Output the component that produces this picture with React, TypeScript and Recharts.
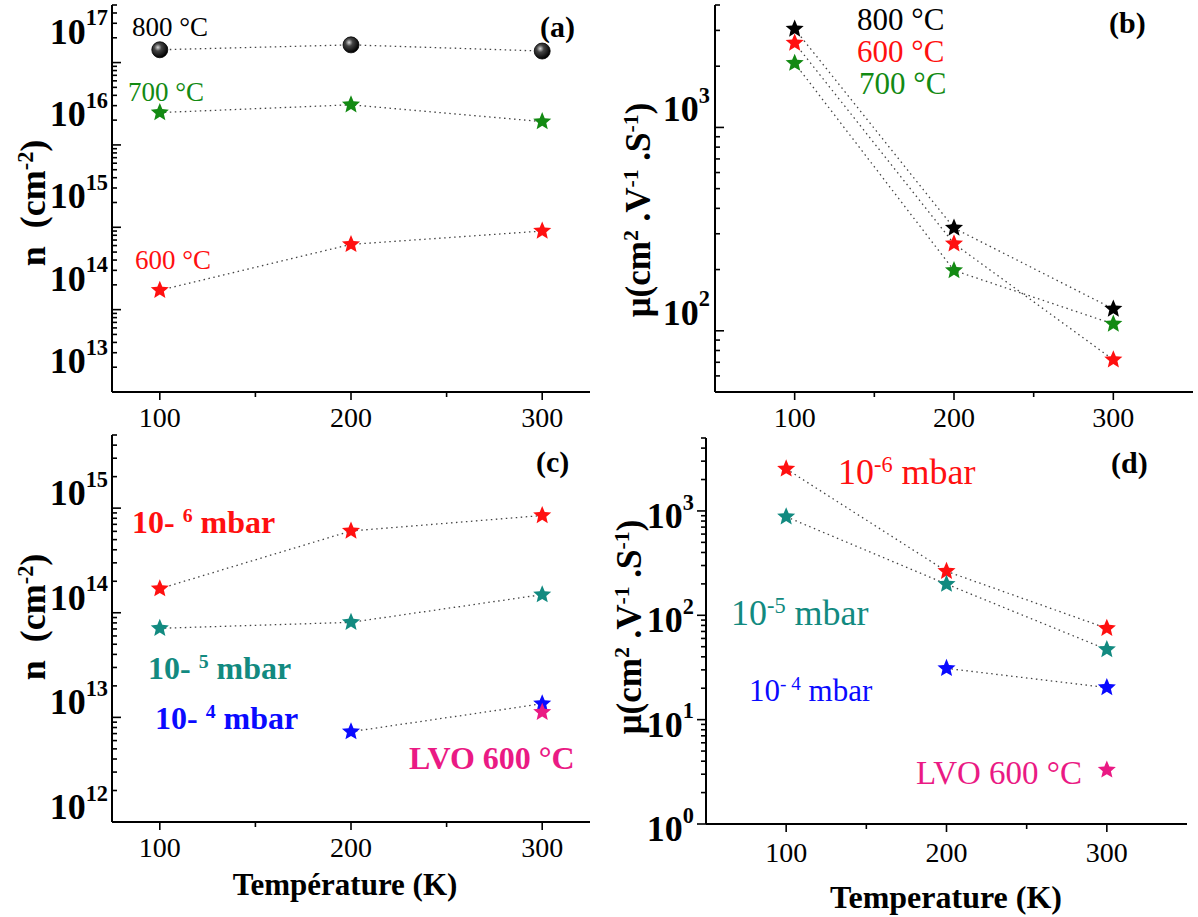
import React from 'react';
import { LineChart, Line, XAxis, YAxis } from 'recharts';

// ---------- data ----------
const temperatures = [100, 200, 300];

// (a) carrier density n (cm^-2) vs T, by growth temperature
const nA_800 = [1.43e17, 1.64e17, 1.38e17];
const nA_700 = [2.47e16, 3.07e16, 1.92e16];
const nA_600 = [1.72e14, 6.2e14, 9.0e14];

// (b) mobility vs T, by growth temperature
const muB_800 = [3050, 320, 128];
const muB_600 = [2600, 268, 72];
const muB_700 = [2070, 198, 108];

// (c) carrier density vs T, by oxygen pressure
const nC_1e6 = [1.7e14, 6.05e14, 8.5e14];
const nC_1e5 = [7.1e13, 8.1e13, 1.49e14];
const nC_1e4 = [null, 7.3e12, 1.35e13];
const nC_lvo = [null, null, 1.12e13];

// (d) mobility vs T, by oxygen pressure
const muD_1e6 = [2530, 264, 75];
const muD_1e5 = [880, 199, 47];
const muD_1e4 = [null, 31, 20.3];
const muD_lvo = [null, null, 3.3];

// axes
const xTicks = [100, 150, 200, 250, 300];
const xMajor = [100, 200, 300];
const minorMultipliers = [1, 2, 3, 4, 5, 6, 7, 8, 9];

const domA: [number, number] = [1e13, 5e17];
const domB: [number, number] = [50, 4000];
const domC: [number, number] = [1e12, 5e15];
const domD: [number, number] = [1, 5000];
const xDomAC: [number, number] = [75, 325];
const xDomBD: [number, number] = [50, 350];

// ---------- helpers ----------
const FONT = '"Liberation Serif", "DejaVu Serif", serif';
const RED = '#ff1010';
const GREEN = '#138a13';
const TEAL = '#128a80';
const BLUE = '#0a0aff';
const MAGENTA = '#ea1a84';
const LINE = '#444';

function buildRows(series: Record<string, (number | null)[]>) {
  return temperatures.map((t, i) => {
    const row: any = { T: t };
    Object.keys(series).forEach((k) => {
      row[k] = series[k][i];
    });
    return row;
  });
}

function logTicks(dom: [number, number]) {
  const out: number[] = [];
  const e0 = Math.floor(Math.log10(dom[0]));
  const e1 = Math.ceil(Math.log10(dom[1]));
  for (let e = e0; e <= e1; e++) {
    minorMultipliers.forEach((m) => {
      const v = m * Math.pow(10, e);
      if (v >= dom[0] * 0.9999 && v <= dom[1] * 1.0001) out.push(v);
    });
  }
  return out;
}

function starPath(cx: number, cy: number, R: number) {
  const r = R * 0.45;
  let d = '';
  for (let i = 0; i < 10; i++) {
    const rad = i % 2 === 0 ? R : r;
    const a = -Math.PI / 2 + (i * Math.PI) / 5;
    const px = cx + rad * Math.cos(a);
    const py = cy + rad * Math.sin(a);
    d += (i === 0 ? 'M' : 'L') + px.toFixed(2) + ',' + py.toFixed(2);
  }
  return d + 'Z';
}

const starDot = (fill: string, R = 9.5) => (props: any) => {
  const { cx, cy, index, value } = props;
  if (cx == null || cy == null || value == null || Number.isNaN(cy)) return <g key={`e${index}`} />;
  return <path key={`s${index}`} d={starPath(cx, cy, R)} fill={fill} />;
};

const ballDot = (props: any) => {
  const { cx, cy, index, value } = props;
  if (cx == null || cy == null || value == null) return <g key={`e${index}`} />;
  return <circle key={`b${index}`} cx={cx} cy={cy} r={8} fill="url(#ballGrad)" stroke="#000" strokeWidth={0.8} />;
};

const makeYTick = (opts: { inward: boolean; labelDy: number; fontSize: number; gap: number }) => (props: any) => {
  const { x, y, payload } = props;
  const v = payload.value;
  const lg = Math.log10(v);
  const major = Math.abs(lg - Math.round(lg)) < 1e-6;
  const len = major ? 9 : 5;
  const x2 = opts.inward ? x + len : x - len;
  return (
    <g>
      <line x1={x} y1={y} x2={x2} y2={y} stroke="#000" strokeWidth={1.6} />
      {major && (
        <text
          x={x - opts.gap}
          y={y + opts.labelDy}
          textAnchor="end"
          fontFamily={FONT}
          fontWeight="bold"
          fontSize={opts.fontSize}
          fill="#000"
          dominantBaseline="central"
        >
          10
          <tspan dy={-opts.fontSize * 0.4} fontSize={opts.fontSize * 0.62}>
            {Math.round(lg)}
          </tspan>
        </text>
      )}
    </g>
  );
};

const makeXTick = (opts: { labelDy: number; fontSize: number }) => (props: any) => {
  const { x, y, payload } = props;
  const major = xMajor.includes(payload.value);
  const len = major ? 8 : 5;
  return (
    <g>
      <line x1={x} y1={y} x2={x} y2={y + len} stroke="#000" strokeWidth={1.6} />
      {major && (
        <text
          x={x}
          y={y + opts.labelDy}
          textAnchor="middle"
          dominantBaseline="central"
          fontFamily={FONT}
          fontSize={opts.fontSize}
          fill="#000"
        >
          {payload.value}
        </text>
      )}
    </g>
  );
};

function Note(props: { x: number; y: number; size: number; color: string; bold?: boolean; children: any }) {
  return (
    <div
      style={{
        position: 'absolute',
        left: props.x,
        top: props.y,
        transform: 'translateY(-50%)',
        fontFamily: FONT,
        fontSize: props.size,
        color: props.color,
        fontWeight: props.bold ? 'bold' : 'normal',
        whiteSpace: 'nowrap',
        lineHeight: 1,
      }}
    >
      {props.children}
    </div>
  );
}

function VTitle(props: { x: number; y: number; size: number; children: any }) {
  return (
    <div
      style={{
        position: 'absolute',
        left: props.x,
        top: props.y,
        transform: 'translate(-50%, -50%) rotate(-90deg)',
        fontFamily: FONT,
        fontSize: props.size,
        fontWeight: 'bold',
        whiteSpace: 'nowrap',
        lineHeight: 1,
        color: '#000',
      }}
    >
      {props.children}
    </div>
  );
}

function HTitle(props: { x: number; y: number; size: number; children: any }) {
  return (
    <div
      style={{
        position: 'absolute',
        left: props.x,
        top: props.y,
        transform: 'translate(-50%, -50%)',
        fontFamily: FONT,
        fontSize: props.size,
        fontWeight: 'bold',
        whiteSpace: 'nowrap',
        lineHeight: 1,
        color: '#000',
      }}
    >
      {props.children}
    </div>
  );
}

const Sup = (p: { children: any }) => (
  <span style={{ fontSize: '0.62em', position: 'relative', top: '-0.55em' }}>{p.children}</span>
);

const lineProps = {
  stroke: LINE,
  strokeWidth: 1.3,
  strokeDasharray: '1.5 3.5',
  isAnimationActive: false,
  connectNulls: false,
  activeDot: false as any,
  type: 'linear' as const,
};

// ---------- panels ----------
function Panel(props: {
  left: number;
  top: number;
  width: number;
  height: number;
  margin: { top: number; right: number; bottom: number; left: number };
  xDom: [number, number];
  yDom: [number, number];
  rows: any[];
  yTick: any;
  xTick: any;
  children: any;
}) {
  return (
    <div style={{ position: 'absolute', left: props.left, top: props.top }}>
      <LineChart width={props.width} height={props.height} data={props.rows} margin={props.margin}>
        <defs>
          <radialGradient id="ballGrad" cx="38%" cy="35%" r="65%">
            <stop offset="0%" stopColor="#d8d8d8" />
            <stop offset="35%" stopColor="#444" />
            <stop offset="100%" stopColor="#000" />
          </radialGradient>
        </defs>
        <XAxis
          dataKey="T"
          type="number"
          domain={props.xDom}
          ticks={xTicks}
          interval={0}
          height={30}
          tickSize={0}
          tickMargin={0}
          tickLine={false}
          axisLine={{ stroke: '#000', strokeWidth: 2 }}
          tick={props.xTick}
          allowDataOverflow
        />
        <XAxis
          xAxisId="top"
          orientation="top"
          type="number"
          domain={props.xDom}
          height={0}
          tick={false}
          tickLine={false}
          axisLine={{ stroke: '#000', strokeWidth: 2 }}
        />
        <YAxis
          type="number"
          scale="log"
          domain={props.yDom}
          allowDataOverflow
          ticks={logTicks(props.yDom)}
          interval={0}
          width={100}
          tickSize={0}
          tickMargin={0}
          tickLine={false}
          axisLine={{ stroke: '#000', strokeWidth: 2 }}
          tick={props.yTick}
        />
        <YAxis
          yAxisId="right"
          orientation="right"
          type="number"
          domain={[0, 1]}
          width={0}
          tick={false}
          tickLine={false}
          axisLine={{ stroke: '#000', strokeWidth: 2 }}
        />
        {props.children}
      </LineChart>
    </div>
  );
}

export default function App() {
  const rowsA = buildRows({ s800: nA_800, s700: nA_700, s600: nA_600 });
  const rowsB = buildRows({ s800: muB_800, s600: muB_600, s700: muB_700 });
  const rowsC = buildRows({ p6: nC_1e6, p5: nC_1e5, p4: nC_1e4, lvo: nC_lvo });
  const rowsD = buildRows({ p6: muD_1e6, p5: muD_1e5, p4: muD_1e4, lvo: muD_lvo });

  return (
    <div style={{ position: 'absolute', left: 0, top: 0, width: 1198, height: 917, background: '#fff', overflow: 'hidden' }}>
      {/* (a) */}
      <Panel
        left={0}
        top={0}
        width={600}
        height={432}
        margin={{ top: 5, right: 10, bottom: 10, left: 12 }}
        xDom={xDomAC}
        yDom={domA}
        rows={rowsA}
        yTick={makeYTick({ inward: true, labelDy: -31, fontSize: 36, gap: 4 })}
        xTick={makeXTick({ labelDy: 25, fontSize: 28 })}
      >
        <Line dataKey="s800" {...lineProps} dot={ballDot} />
        <Line dataKey="s700" {...lineProps} dot={starDot(GREEN)} />
        <Line dataKey="s600" {...lineProps} dot={starDot(RED)} />
      </Panel>

      {/* (b) */}
      <Panel
        left={600}
        top={0}
        width={598}
        height={432}
        margin={{ top: 5, right: 5, bottom: 10, left: 15 }}
        xDom={xDomBD}
        yDom={domB}
        rows={rowsB}
        yTick={makeYTick({ inward: true, labelDy: -18, fontSize: 36, gap: 5 })}
        xTick={makeXTick({ labelDy: 25, fontSize: 28 })}
      >
        <Line dataKey="s800" {...lineProps} dot={starDot('#000')} />
        <Line dataKey="s600" {...lineProps} dot={starDot(RED)} />
        <Line dataKey="s700" {...lineProps} dot={starDot(GREEN)} />
      </Panel>

      {/* (c) */}
      <Panel
        left={0}
        top={430}
        width={600}
        height={487}
        margin={{ top: 5, right: 10, bottom: 65, left: 12 }}
        xDom={xDomAC}
        yDom={domC}
        rows={rowsC}
        yTick={makeYTick({ inward: true, labelDy: -15, fontSize: 36, gap: 4 })}
        xTick={makeXTick({ labelDy: 25, fontSize: 28 })}
      >
        <Line dataKey="p6" {...lineProps} dot={starDot(RED)} />
        <Line dataKey="p5" {...lineProps} dot={starDot(TEAL)} />
        <Line dataKey="p4" {...lineProps} dot={starDot(BLUE)} />
        <Line dataKey="lvo" {...lineProps} stroke="none" dot={starDot(MAGENTA)} />
      </Panel>

      {/* (d) */}
      <Panel
        left={600}
        top={430}
        width={598}
        height={487}
        margin={{ top: 8, right: 11, bottom: 63, left: 6 }}
        xDom={xDomBD}
        yDom={domD}
        rows={rowsD}
        yTick={makeYTick({ inward: false, labelDy: 5, fontSize: 36, gap: 12 })}
        xTick={makeXTick({ labelDy: 28, fontSize: 28 })}
      >
        <Line dataKey="p6" {...lineProps} dot={starDot(RED)} />
        <Line dataKey="p5" {...lineProps} dot={starDot(TEAL)} />
        <Line dataKey="p4" {...lineProps} dot={starDot(BLUE)} />
        <Line dataKey="lvo" {...lineProps} stroke="none" dot={starDot(MAGENTA)} />
      </Panel>

      {/* axis titles */}
      <VTitle x={33} y={203} size={36}>
        n&nbsp;&nbsp;(cm<Sup>-2</Sup>)
      </VTitle>
      <VTitle x={33} y={617} size={36}>
        n&nbsp;&nbsp;(cm<Sup>-2</Sup>)
      </VTitle>
      <VTitle x={638} y={210} size={35}>
        μ(cm<Sup>2</Sup> .V<Sup>-1</Sup> .S<Sup>-1</Sup>)
      </VTitle>
      <VTitle x={629} y={627} size={35}>
        μ(cm<Sup>2</Sup> .V<Sup>-1</Sup> .S<Sup>-1</Sup>)
      </VTitle>
      <HTitle x={345} y={884} size={31}>Température (K)</HTitle>
      <HTitle x={946} y={897} size={32}>Temperature (K)</HTitle>

      {/* panel (a) annotations */}
      <Note x={132} y={27} size={27} color="#000">800 °C</Note>
      <Note x={128} y={92} size={27} color={GREEN}>700 °C</Note>
      <Note x={135} y={260} size={27} color={RED}>600 °C</Note>
      <Note x={540} y={27} size={30} color="#000" bold>(a)</Note>

      {/* panel (b) annotations */}
      <Note x={857} y={19} size={31} color="#000">800 °C</Note>
      <Note x={857} y={51} size={31} color={RED}>600 °C</Note>
      <Note x={859} y={83} size={31} color={GREEN}>700 °C</Note>
      <Note x={1109} y={23} size={30} color="#000" bold>(b)</Note>

      {/* panel (c) annotations */}
      <Note x={132} y={522} size={32} color={RED} bold>
        10- <Sup>6</Sup> mbar
      </Note>
      <Note x={148} y={668} size={32} color={TEAL} bold>
        10- <Sup>5</Sup> mbar
      </Note>
      <Note x={155} y={718} size={32} color={BLUE} bold>
        10- <Sup>4</Sup> mbar
      </Note>
      <Note x={409} y={758} size={32} color={MAGENTA} bold>LVO 600 °C</Note>
      <Note x={536} y={462} size={30} color="#000" bold>(c)</Note>

      {/* panel (d) annotations */}
      <Note x={838} y={472} size={36} color={RED}>
        10<Sup>-6</Sup> mbar
      </Note>
      <Note x={731} y={613} size={36} color={TEAL}>
        10<Sup>-5</Sup> mbar
      </Note>
      <Note x={749} y={690} size={31} color={BLUE}>
        10<Sup>- 4</Sup> mbar
      </Note>
      <Note x={916} y={773} size={33} color={MAGENTA}>LVO 600 °C</Note>
      <Note x={1111} y={463} size={30} color="#000" bold>(d)</Note>
    </div>
  );
}
